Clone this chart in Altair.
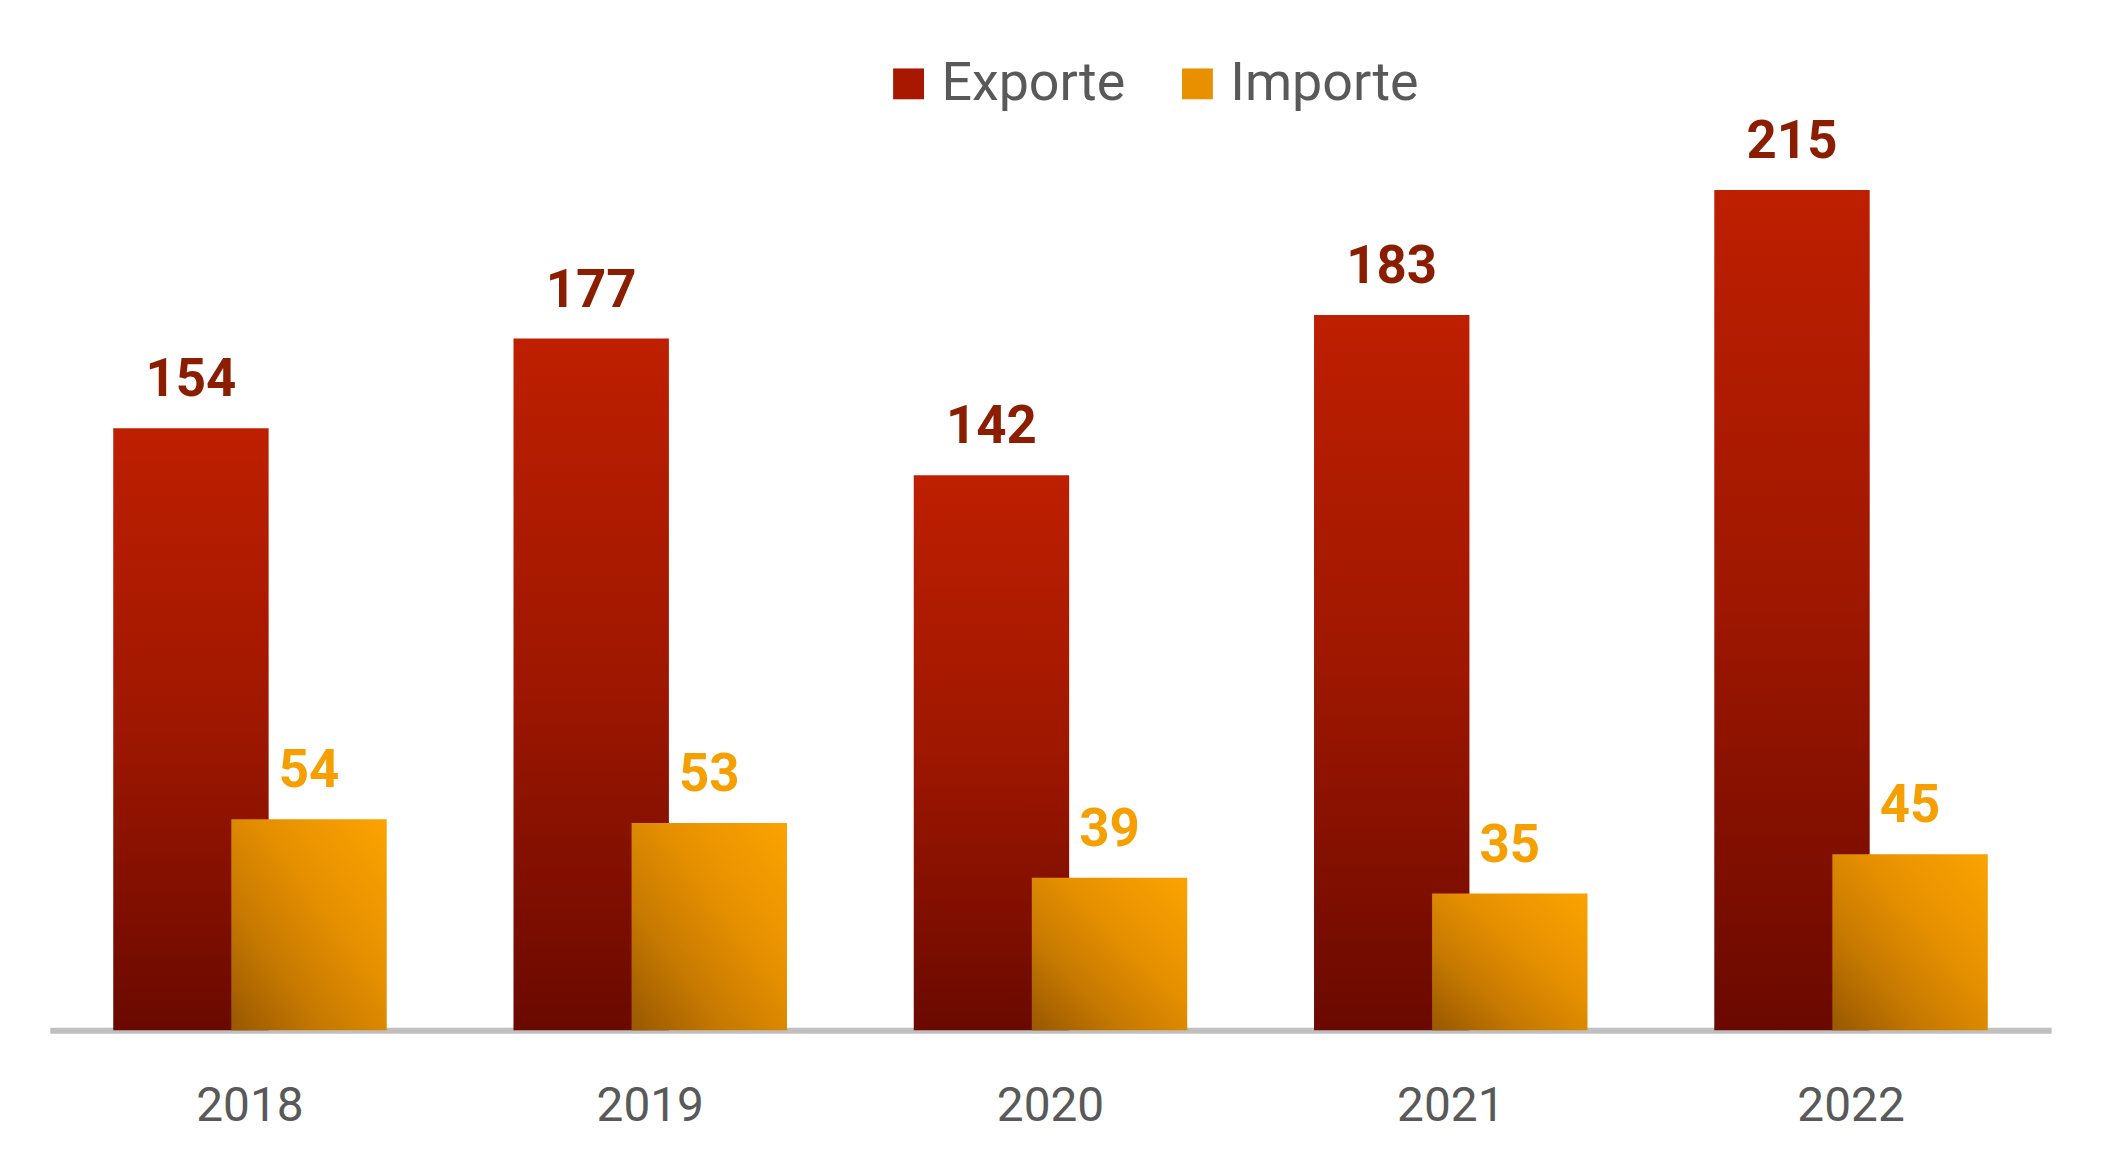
import altair as alt
import pandas as pd

years = ["2018", "2019", "2020", "2021", "2022"]
exporte = [154, 177, 142, 183, 215]
importe = [54, 53, 39, 35, 45]
series = ["Exporte", "Importe"]

rows = []
for i, y in enumerate(years):
    rows.append({"year": y, "series": "Exporte", "value": exporte[i]})
    rows.append({"year": y, "series": "Importe", "value": importe[i]})
df = pd.DataFrame(rows)

FONT = "Roboto"
GREY = "#595959"

x_enc = alt.X("year:N", sort=years,
              scale=alt.Scale(paddingInner=0.41, paddingOuter=0.205),
              axis=alt.Axis(title=None, labelFontSize=48, labelColor=GREY, labelFont=FONT,
                            labelAngle=0, ticks=False, domainColor="#BFBFBF", domainWidth=6,
                            labelPadding=53, grid=False))
xo_enc = alt.XOffset("series:N", sort=series,
                     scale=alt.Scale(domain=series, paddingInner=0, paddingOuter=0))
y_enc = alt.Y("value:Q", scale=alt.Scale(domain=[0, 261]), axis=None)

exp_grad = {"gradient": "linear", "x1": 0, "y1": 0, "x2": 0, "y2": 1,
            "stops": [{"offset": 0, "color": "#BE1F00"},
                      {"offset": 0.5, "color": "#9E1700"},
                      {"offset": 1, "color": "#6A0900"}]}
imp_grad = {"gradient": "linear", "x1": 0, "y1": 1, "x2": 1, "y2": 0,
            "stops": [{"offset": 0, "color": "#985800"},
                      {"offset": 0.3, "color": "#C67900"},
                      {"offset": 0.6, "color": "#E69000"},
                      {"offset": 1, "color": "#FBA300"}]}

base = alt.Chart(df)
exp_data = base.transform_filter(alt.datum.series == "Exporte")
imp_data = base.transform_filter(alt.datum.series == "Importe")

bars_exp = exp_data.mark_bar(width=156, color=exp_grad).encode(x=x_enc, xOffset=xo_enc, y=y_enc)
bars_imp = imp_data.mark_bar(width=156, color=imp_grad).encode(x=x_enc, xOffset=xo_enc, y=y_enc)

text_props = dict(dy=-32, baseline="alphabetic", align="center", fontSize=53,
                  fontWeight="bold", font=FONT)
labels_exp = exp_data.mark_text(color="#8B1E00", **text_props).encode(
    x=x_enc, xOffset=xo_enc, y=y_enc, text="value:Q")
labels_imp = imp_data.mark_text(color="#F5A000", **text_props).encode(
    x=x_enc, xOffset=xo_enc, y=y_enc, text="value:Q")

legend_layer = base.mark_square(opacity=0).encode(
    x=x_enc, xOffset=xo_enc, y=y_enc,
    color=alt.Color("series:N", scale=alt.Scale(domain=series, range=["#A81800", "#E99000"]),
                    legend=alt.Legend(title=None, orient="none", legendX=835, legendY=47,
                                      direction="horizontal", symbolType="square",
                                      symbolSize=960, symbolOpacity=1, symbolStrokeWidth=0,
                                      labelFontSize=54, labelColor=GREY, labelFont=FONT,
                                      labelLimit=500, labelOffset=6, columnPadding=45,
                                      padding=0)))

chart = alt.layer(bars_exp, bars_imp, labels_exp, labels_imp, legend_layer).properties(
    width=2009, height=1024,
    autosize=alt.AutoSizeParams(type="none"),
    padding={"left": 42, "top": 0, "right": 42, "bottom": 100},
).configure_view(stroke=None)

chart.save("out.html", embed_options={"renderer": "svg", "actions": False})
